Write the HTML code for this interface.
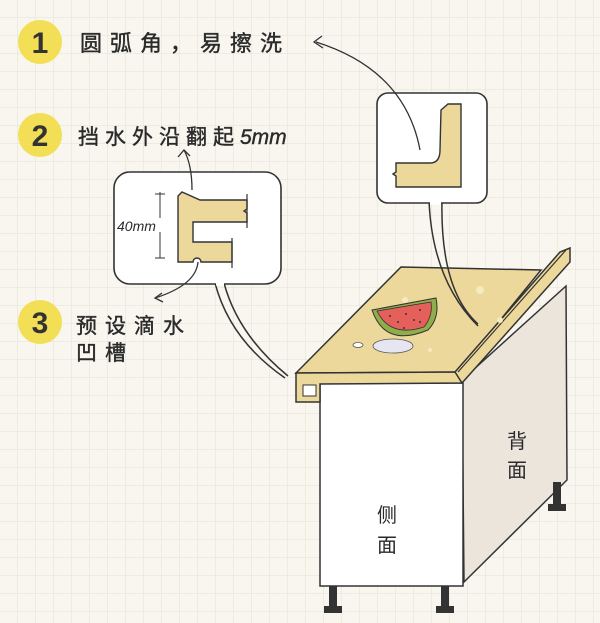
<!DOCTYPE html>
<html><head><meta charset="utf-8"><style>
html,body{margin:0;padding:0;background:#f8f6ee}
svg{display:block}
text{font-family:"Liberation Sans","Noto Sans CJK SC",sans-serif;fill:#2a2a2a}
.lb{letter-spacing:6px;stroke:#2a2a2a;stroke-width:0.4}
</style></head><body>
<svg width="600" height="623" viewBox="0 0 600 623" xmlns="http://www.w3.org/2000/svg">
<defs>
<pattern id="g" width="18" height="18" patternUnits="userSpaceOnUse">
<path d="M18 0V18M0 18H18" stroke="#e4e2d6" stroke-width="1" fill="none"/>
</pattern>
</defs>
<rect width="600" height="623" fill="#f8f6ee"/>
<rect width="600" height="623" fill="url(#g)"/>

<g>
<circle cx="40" cy="42" r="22" fill="#f3df55"/>
<text x="40" y="53" font-size="30" text-anchor="middle" font-weight="bold" style="fill:#333">1</text>
<circle cx="40" cy="135" r="22" fill="#f3df55"/>
<text x="40" y="146" font-size="30" text-anchor="middle" font-weight="bold" style="fill:#333">2</text>
<circle cx="40" cy="322" r="22" fill="#f3df55"/>
<text x="40" y="333" font-size="30" text-anchor="middle" font-weight="bold" style="fill:#333">3</text>
</g>
<text class="lb" x="80" y="51" font-size="22" style="letter-spacing:8px">圆弧角，易擦洗</text>
<text class="lb" x="78" y="144" font-size="21" style="letter-spacing:6px">挡水外沿翻起<tspan font-style="italic" style="letter-spacing:0">5mm</tspan></text>
<text class="lb" x="76" y="333" font-size="21" style="letter-spacing:8px">预设滴水</text>
<text class="lb" x="76" y="360" font-size="21" style="letter-spacing:8px">凹槽</text>

<path d="M462 380 L566 286 L567 480 L464 582 Z" fill="#ece5dc" stroke="#333" stroke-width="1.5"/>
<rect x="320" y="383" width="143" height="203" fill="#fff" stroke="#333" stroke-width="1.5"/>
<text x="507" y="448" font-size="20">背</text>
<text x="507" y="477" font-size="20">面</text>
<text x="377" y="522" font-size="20">侧</text>
<text x="377" y="552" font-size="20">面</text>
<g fill="#333">
<rect x="329" y="586" width="8" height="24"/><rect x="324" y="606" width="18" height="7"/>
<rect x="441" y="586" width="8" height="24"/><rect x="436" y="606" width="18" height="7"/>
<rect x="553" y="482" width="8" height="26"/><rect x="548" y="504" width="18" height="7"/>
</g>

<path d="M296 373 L401 267 L541 270 L458 372 Z" fill="#ecd89a" stroke="#333" stroke-width="1.5"/>
<path d="M296 373 L458 372 L462 383 L320 384 L320 402 L296 402 Z" fill="#ecd89a" stroke="#333" stroke-width="1.5"/>
<path d="M303 385 L316 385 L316 396 L303 396 Z" fill="#fff" stroke="#333" stroke-width="1"/>
<path d="M455 372 L560 252 L570 248 L570 262 L462 383 Z" fill="#ecd89a" stroke="#333" stroke-width="1.5"/>
<path d="M458 372 L566 250" stroke="#333" stroke-width="1.2" fill="none"/>
<g fill="#f6eac0"><circle cx="405" cy="300" r="3"/><circle cx="480" cy="290" r="4"/><circle cx="430" cy="350" r="2"/><circle cx="500" cy="320" r="3"/></g>
<!-- watermelon -->
<ellipse cx="393" cy="346" rx="20" ry="7" fill="#e6e6f2" stroke="#555" stroke-width="0.8"/>
<ellipse cx="358" cy="345" rx="5" ry="2.5" fill="#fff" stroke="#555" stroke-width="0.8"/>
<path d="M372 310 Q385 348 428 330 Q440 318 436 298 Z" fill="#8fae4a" stroke="#333" stroke-width="1"/>
<path d="M377 311 Q390 338 424 327 Q433 316 431 302 Z" fill="#e5605a" stroke="#333" stroke-width="0.8"/>
<g fill="#333"><circle cx="390" cy="316" r="1"/><circle cx="398" cy="322" r="1"/><circle cx="406" cy="314" r="1"/><circle cx="414" cy="320" r="1"/><circle cx="420" cy="310" r="1"/><circle cx="404" cy="328" r="1"/><circle cx="420" cy="322" r="1"/></g>

<path d="M215 283 Q230 340 285 378" fill="none" stroke="#333" stroke-width="1.5"/>
<path d="M224 283 Q238 335 288 376" fill="none" stroke="#333" stroke-width="1.5"/>
<rect x="114" y="172" width="167" height="112" rx="16" fill="#fff" stroke="#333" stroke-width="1.6"/>
<path d="M216 284 L224 284" stroke="#fff" stroke-width="3"/>
<path d="M178 196 L182 192 L200 200 L247 200 L247 209 L244 211 L247 213 L247 222 L193 222 L193 242 L232 242 L232 262 L201 262 A4 4 0 0 0 193 262 L178 262 Z" fill="#ecd89a" stroke="#333" stroke-width="1.4"/>
<path d="M247 194 V228 M232 238 V268" stroke="#333" stroke-width="1.2"/>
<path d="M160 192 V258 M155 194 H165 M155 258 H165" stroke="#333" stroke-width="1"/>
<rect x="116" y="218" width="58" height="14" fill="#fff"/>
<text x="117" y="231" font-size="14" font-style="italic">40mm</text>
<path d="M192 190 Q192 165 184 150" fill="none" stroke="#333" stroke-width="1.3"/>
<path d="M178 157 L184 150 L190 156" fill="none" stroke="#333" stroke-width="1.3"/>
<path d="M198 262 Q196 285 155 298" fill="none" stroke="#333" stroke-width="1.3"/>
<path d="M162 293 L155 298 L163 302" fill="none" stroke="#333" stroke-width="1.3"/>

<path d="M429 200 Q432 280 478 326" fill="none" stroke="#333" stroke-width="1.5"/>
<path d="M442 200 Q440 290 478 324" fill="none" stroke="#333" stroke-width="1.5"/>
<rect x="377" y="93" width="110" height="110" rx="11" fill="#fff" stroke="#333" stroke-width="1.6"/>
<path d="M430 203 L441 203" stroke="#fff" stroke-width="3"/>
<path d="M441 110 L448 104 L461 104 L461 187 L396 187 L396 176 L393 174 L396 172 L396 163 L430 163 Q440 163 440 150 Z" fill="#ecd89a" stroke="#333" stroke-width="1.4"/>
<path d="M420 150 Q405 70 316 42" fill="none" stroke="#333" stroke-width="1.3"/>
<path d="M322 36 L314 42 L323 48" fill="none" stroke="#333" stroke-width="1.3"/>
</svg>
</body></html>
